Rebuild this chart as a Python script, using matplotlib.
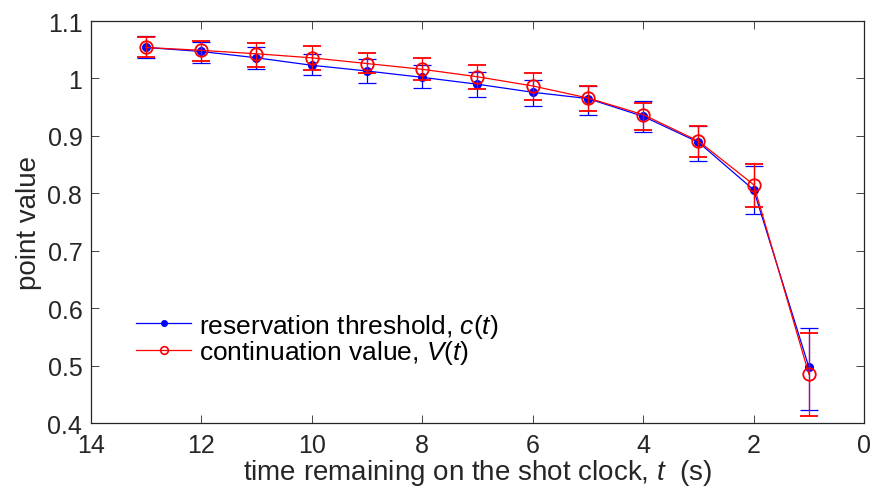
import matplotlib
matplotlib.use('Agg')
import matplotlib.pyplot as plt
from matplotlib.lines import Line2D
import numpy as np

# shot clock seconds remaining
t = [13, 12, 11, 10, 9, 8, 7, 6, 5, 4, 3, 2, 1]

# reservation threshold c(t) with error bar ends
c_val = [1.054, 1.047, 1.036, 1.023, 1.013, 1.002, 0.990, 0.976, 0.965, 0.934, 0.889, 0.806, 0.497]
c_hi = [1.074, 1.064, 1.055, 1.042, 1.034, 1.024, 1.012, 0.997, 0.987, 0.961, 0.918, 0.848, 0.565]
c_lo = [1.036, 1.027, 1.016, 1.006, 0.992, 0.983, 0.968, 0.952, 0.937, 0.907, 0.856, 0.764, 0.423]

# continuation value V(t) with error bar ends
v_val = [1.054, 1.049, 1.043, 1.036, 1.026, 1.016, 1.003, 0.987, 0.966, 0.937, 0.891, 0.815, 0.485]
v_hi = [1.072, 1.066, 1.062, 1.056, 1.044, 1.036, 1.023, 1.009, 0.987, 0.958, 0.918, 0.851, 0.557]
v_lo = [1.038, 1.030, 1.020, 1.014, 1.009, 0.997, 0.981, 0.963, 0.943, 0.910, 0.864, 0.777, 0.412]

x_ticks = [14, 12, 10, 8, 6, 4, 2, 0]
y_ticks = [0.4, 0.5, 0.6, 0.7, 0.8, 0.9, 1.0, 1.1]
y_ticklabels = ['0.4', '0.5', '0.6', '0.7', '0.8', '0.9', '1', '1.1']

plt.rcParams['font.family'] = ['Liberation Sans', 'DejaVu Sans']
plt.rcParams['mathtext.fontset'] = 'custom'
plt.rcParams['mathtext.rm'] = 'Liberation Sans'
plt.rcParams['mathtext.it'] = 'Liberation Sans:italic'

txt_col = '#262626'

fig = plt.figure(figsize=(8.73, 4.89), dpi=100)
ax = fig.add_axes([0.1039, 0.1329, 0.886, 0.822])

c_val = np.array(c_val)
v_val = np.array(v_val)
c_err = [c_val - np.array(c_lo), np.array(c_hi) - c_val]
v_err = [v_val - np.array(v_lo), np.array(v_hi) - v_val]

ax.errorbar(t, c_val, yerr=c_err, color='blue', ecolor='blue', lw=0.9,
            elinewidth=0.9, capsize=6.5, capthick=0.9, marker='o', ms=5.5,
            mfc='blue', mec='blue', zorder=2)
ax.errorbar(t, v_val, yerr=v_err, color='red', ecolor='red', lw=0.9,
            elinewidth=0.9, capsize=6.5, capthick=0.9, marker='o', ms=9,
            mfc='none', mec='red', mew=1.3, zorder=3)

ax.set_xlim(14, 0)
ax.set_ylim(0.4, 1.1)
ax.set_xticks(x_ticks)
ax.set_yticks(y_ticks)
ax.set_yticklabels(y_ticklabels)
ax.tick_params(direction='in', length=6, width=0.6, top=True, right=True,
               labelsize=18, colors=txt_col)
ax.tick_params(axis='x', pad=7)
ax.tick_params(axis='y', pad=6)
for s in ax.spines.values():
    s.set_color(txt_col)
    s.set_linewidth(0.9)

ax.set_xlabel('time remaining on the shot clock, $t$  (s)', fontsize=20,
              color=txt_col, labelpad=0)
ax.set_ylabel('point value', fontsize=20, color=txt_col, labelpad=4)

handles = [
    Line2D([], [], color='blue', lw=0.9, marker='o', ms=4, mfc='blue', mec='blue'),
    Line2D([], [], color='red', lw=0.9, marker='o', ms=5.5, mfc='none', mec='red', mew=1.2),
]
labels = ['reservation threshold, $c$($t$)', 'continuation value, $V$($t$)']
ax.legend(handles, labels, loc='lower left', bbox_to_anchor=(0.045, 0.115),
          frameon=False, fontsize=19, handlelength=2.1, handletextpad=0.3,
          labelspacing=-0.05, borderaxespad=0, labelcolor='black')

fig.savefig('out.png', dpi=100)
